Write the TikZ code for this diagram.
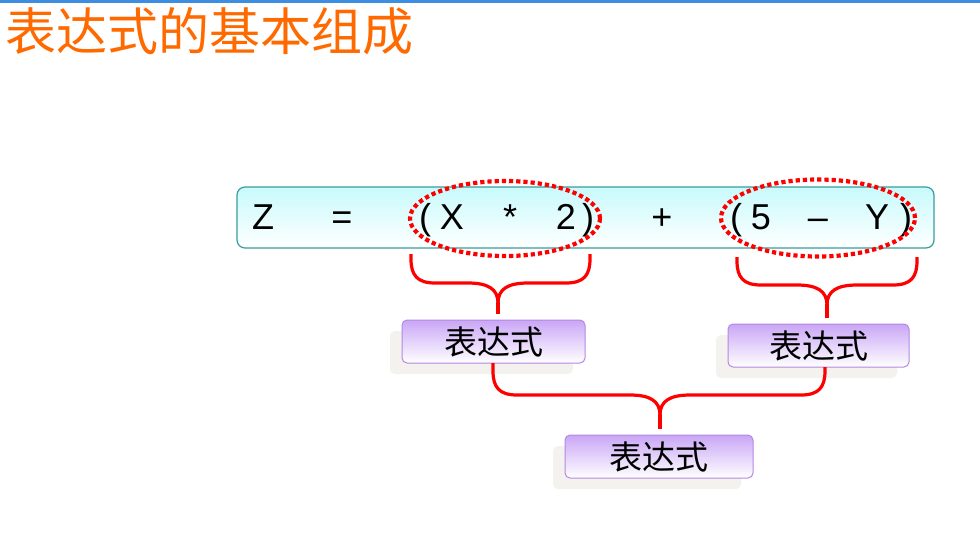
\documentclass[tikz,border=0pt]{standalone}
\usepackage{fontspec}
\setmainfont{Liberation Sans}
\newfontfamily\cjk{Noto Sans CJK SC}
\usetikzlibrary{shapes.geometric,shadows}
\definecolor{titleorange}{HTML}{FF6A00}
\definecolor{topblue}{HTML}{3D8EE0}
\definecolor{tealborder}{HTML}{3A9C9C}
\definecolor{cyantop}{HTML}{C8FAFC}
\definecolor{purpborder}{HTML}{B688E2}
\definecolor{purptop}{HTML}{C9A6F6}
\definecolor{shadowgray}{HTML}{F3F2EE}
\definecolor{bracered}{HTML}{FF0000}
\newcommand\curlybrace[7]{%
  \draw[bracestyle] (#1,#2) -- (#1,#5-24) .. controls (#1,#5-8) and (#1+6,#5) .. (#1+24,#5)
    -- (#6-30,#5) .. controls (#6-10,#5) and (#6,#5+6) .. (#6,#5+20)
    .. controls (#6,#5+6) and (#6+10,#5) .. (#6+30,#5)
    -- (#3-24,#5) .. controls (#3-6,#5) and (#3,#5-8) .. (#3,#5-24) -- (#3,#4);
  \draw[bracestyle] (#6,#5+19) -- (#6,#7);}
\begin{document}
\begin{tikzpicture}[x=1pt,y=-1pt,
  eqbox/.style={draw=tealborder, line width=1.2pt, rounded corners=8pt,
    top color=cyantop, bottom color=white, minimum width=697pt, minimum height=61pt, inner sep=0pt},
  sym/.style={anchor=base, inner sep=0pt, font=\fontsize{36}{36}\selectfont},
  dotell/.style={ellipse, draw=bracered, line width=4.2pt, dash pattern=on 4.2pt off 3pt, inner sep=0pt},
  bracestyle/.style={draw=bracered, line width=3.2pt, line join=round},
  exprbox/.style={draw=purpborder, line width=1pt, rounded corners=5pt,
    top color=purptop, bottom color=white, minimum width=183pt, minimum height=43pt, inner sep=0pt,
    font=\cjk\fontsize{33}{33}\selectfont,
    general shadow={fill=shadowgray, shadow xshift=-12pt, shadow yshift=-11pt}}]
\useasboundingbox (0,0) rectangle (980,542);
\fill[white] (0,0) rectangle (980,542);
\fill[topblue] (0,0) rectangle (980,2.5);
\node[anchor=west, inner sep=0pt, text=titleorange, font=\cjk\fontsize{51}{51}\selectfont] (title) at (5,31) {表达式的基本组成};
% main equation box
\node[eqbox] (eq) at (585.5,217.5) {};
\node[sym] (z) at (263,229) {Z};
\node[sym] (eqs) at (342,229) {=};
\node[sym] (lp1) at (425,229) {(};
\node[sym] (x) at (452,229) {X};
\node[sym] (ast) at (510,229) {*};
\node[sym] (two) at (566,229) {2};
\node[sym] (rp1) at (588,229) {)};
\node[sym] (plus) at (662,229) {+};
\node[sym] (lp2) at (736,229) {(};
\node[sym] (five) at (761,229) {5};
\node[sym] (minus) at (818,229) {–};
\node[sym] (y) at (877,229) {Y};
\node[sym] (rp2) at (906,229) {)};
% dotted ellipses
\node[dotell, minimum width=190pt, minimum height=75pt] (e1) at (505,218.5) {};
\node[dotell, minimum width=194pt, minimum height=77pt] (e2) at (818,218) {};
% expression boxes
\node[exprbox] (k1) at (493.5,341.5) {表达式};
\node[exprbox, minimum width=181pt] (k2) at (818.5,345.5) {表达式};
\node[exprbox, minimum width=188pt] (k3) at (659,456.5) {表达式};
% braces
\curlybrace{411}{254}{590}{254}{283}{498}{314}
\curlybrace{737}{257}{917}{257}{285}{827}{318}
\curlybrace{493}{363}{825}{367}{395}{660}{429}
\end{tikzpicture}
\end{document}
